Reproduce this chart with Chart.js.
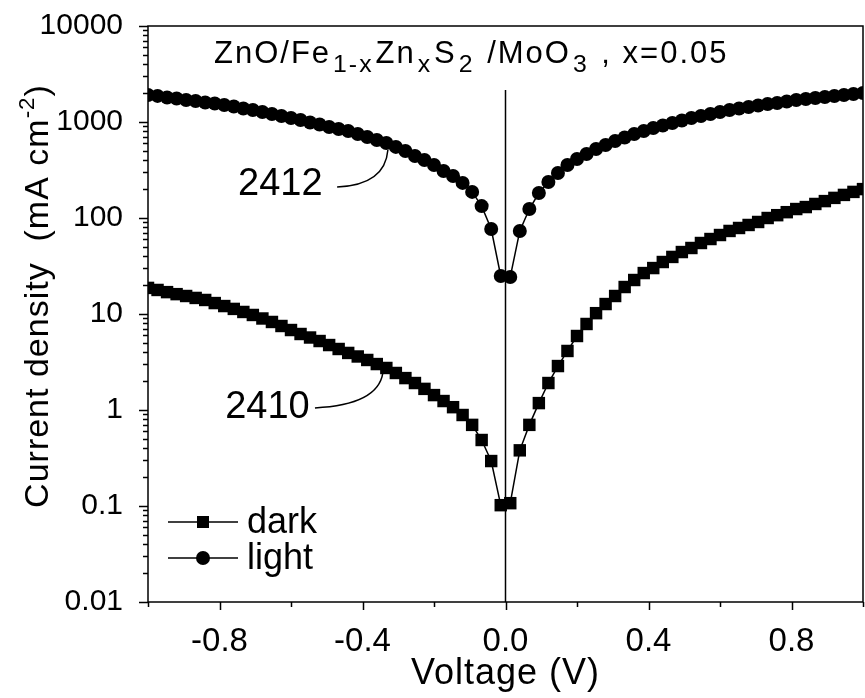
<!DOCTYPE html>
<html>
<head>
<meta charset="utf-8">
<title>ZnO/FeZnS2/MoO3 J-V</title>
<script src="https://cdn.jsdelivr.net/npm/chart.js@4.4.1/dist/chart.umd.min.js"></script>
<style>
    html, body { margin: 0; padding: 0; background: #fff; }
    canvas { display: block; }
</style>
</head>
<body>
<canvas id="ivChart" width="865" height="698"></canvas>
<script>
// voltage sweep (V), 76 points
var voltage = [-1.0000, -0.9733, -0.9467, -0.9200, -0.8933, -0.8667, -0.8400, -0.8133, -0.7867, -0.7600,
    -0.7333, -0.7067, -0.6800, -0.6533, -0.6267, -0.6000, -0.5733, -0.5467, -0.5200, -0.4933,
    -0.4667, -0.4400, -0.4133, -0.3867, -0.3600, -0.3333, -0.3067, -0.2800, -0.2533, -0.2267,
    -0.2000, -0.1733, -0.1467, -0.1200, -0.0933, -0.0667, -0.0400, -0.0133,
    0.0133, 0.0400, 0.0667, 0.0933, 0.1200, 0.1467, 0.1733, 0.2000, 0.2267, 0.2533,
    0.2800, 0.3067, 0.3333, 0.3600, 0.3867, 0.4133, 0.4400, 0.4667, 0.4933, 0.5200,
    0.5467, 0.5733, 0.6000, 0.6267, 0.6533, 0.6800, 0.7067, 0.7333, 0.7600, 0.7867,
    0.8133, 0.8400, 0.8667, 0.8933, 0.9200, 0.9467, 0.9733, 1.0000];

// current density (mA cm-2), dark
var darkJ = [18.7, 17.8, 16.9, 16.1, 15.4, 14.7, 14.0, 13.0, 12.1, 11.3,
    10.5, 9.77, 8.98, 8.26, 7.50, 6.81, 6.19, 5.69, 5.23, 4.75,
    4.32, 3.93, 3.61, 3.32, 3.01, 2.74, 2.43, 2.15, 1.91, 1.66,
    1.43, 1.24, 1.07, 0.887, 0.70, 0.487, 0.294, 0.102,
    0.107, 0.38, 0.70, 1.18, 1.91, 2.87, 4.12, 5.90, 7.87, 10.2,
    12.7, 15.4, 19.1, 22.6, 26.7, 30.1, 34.8, 39.3, 44.2, 48.7,
    54.9, 60.4, 66.5, 73.3, 78.7, 84.6, 90.9, 100, 107, 115,
    124, 130, 140, 150, 162, 174, 187, 200];

// current density (mA cm-2), light
var lightJ = [1910, 1870, 1800, 1758, 1695, 1655, 1597, 1560, 1503, 1449,
    1383, 1334, 1272, 1211, 1155, 1101, 1050, 988, 942, 887,
    845, 806, 750, 698, 649, 604, 550, 499, 443, 402,
    356, 309, 274, 232, 187, 133, 76.7, 24.9,
    24.3, 73.3, 124, 182, 237, 294, 356, 412, 464, 523,
    576, 634, 690, 750, 806, 866, 920, 977, 1038, 1101,
    1155, 1211, 1272, 1334, 1383, 1433, 1486, 1540, 1578, 1636,
    1695, 1737, 1778, 1821, 1866, 1910, 1957, 2005];

// axis ticks
var xTickValues = [-0.8, -0.4, 0.0, 0.4, 0.8];
var xTickLabels = ['-0.8', '-0.4', '0.0', '0.4', '0.8'];
var xMinorTicks = [-1.0, -0.6, -0.2, 0.2, 0.6, 1.0];
var yTickValues = [0.01, 0.1, 1, 10, 100, 1000, 10000];
var yTickLabels = ['0.01', '0.1', '1', '10', '100', '1000', '10000'];
var seriesNames = ['dark', 'light'];

// zero-voltage marker line
var zeroLineV = [0, 0];
var zeroLineJ = [0.01, 2150];

// sample labels: [text, V, J] and leader curves [V0,J0, Vc,Jc, V1,J1]
var sampleLabels = [['2412', -0.748, 221], ['2410', -0.784, 1.07]];
var sampleLeaders = [[-0.471, 210, -0.337, 221, -0.329, 511],
                     [-0.533, 1.05, -0.357, 1.13, -0.343, 2.43]];

var FONT = "'Liberation Sans', Arial, Helvetica, sans-serif";

function toPoints(xs, ys) {
    var pts = [];
    for (var i = 0; i < xs.length; i++) {
        pts.push({x: xs[i], y: ys[i]});
    }
    return pts;
}

// draws text made of normal / sub / sup pieces, returns total width
function drawRichText(ctx, pieces, x, y, size, measureOnly) {
    var w = 0;
    for (var i = 0; i < pieces.length; i++) {
        var p = pieces[i];
        var s = p[1] === 'n' ? size : size * 0.8;
        ctx.font = s + 'px ' + FONT;
        var dy = 0;
        if (p[1] === 'sub') { dy = size * 0.3; w += 2; }
        if (p[1] === 'sup') { dy = -size * 0.4; s = size * 0.66; ctx.font = s + 'px ' + FONT; }
        if (!measureOnly) ctx.fillText(p[0], x + w, y + dy);
        w += ctx.measureText(p[0]).width;
        if (p[1] === 'sub') w += 2;
    }
    return w;
}

// keep the plot frame where it is, ignore label overhang
function noOverhang(scale) {
    scale.paddingTop = 0;
    scale.paddingBottom = 0;
    scale.paddingLeft = 0;
    scale.paddingRight = 0;
}

var decorPlugin = {
    id: 'decor',
    afterDraw: function(chart) {
        var ctx = chart.ctx;
        var area = chart.chartArea;
        var xs = chart.scales.x;
        var ys = chart.scales.y;
        var i, j, px, py;

        ctx.save();
        ctx.strokeStyle = '#000';
        ctx.fillStyle = '#000';

        // frame
        ctx.lineWidth = 1.5;
        ctx.strokeRect(area.left, area.top, area.right - area.left, area.bottom - area.top);

        // x ticks (outward)
        ctx.beginPath();
        for (i = 0; i < xTickValues.length; i++) {
            px = Math.round(xs.getPixelForValue(xTickValues[i])) + 0.5;
            ctx.moveTo(px, area.bottom);
            ctx.lineTo(px, area.bottom + 8);
        }
        for (i = 0; i < xMinorTicks.length; i++) {
            px = Math.round(xs.getPixelForValue(xMinorTicks[i])) + 0.5;
            ctx.moveTo(px, area.bottom);
            ctx.lineTo(px, area.bottom + 5);
        }
        // y ticks, decades and minor 2..9
        for (i = 0; i < yTickValues.length; i++) {
            py = Math.round(ys.getPixelForValue(yTickValues[i])) + 0.5;
            ctx.moveTo(area.left, py);
            ctx.lineTo(area.left - 9, py);
            if (i < yTickValues.length - 1) {
                for (j = 2; j <= 9; j++) {
                    py = Math.round(ys.getPixelForValue(yTickValues[i] * j)) + 0.5;
                    ctx.moveTo(area.left, py);
                    ctx.lineTo(area.left - 5, py);
                }
            }
        }
        ctx.stroke();

        // sample labels and leader curves
        ctx.textBaseline = 'middle';
        ctx.textAlign = 'left';
        ctx.font = '38px ' + FONT;
        for (i = 0; i < sampleLabels.length; i++) {
            ctx.fillText(sampleLabels[i][0], xs.getPixelForValue(sampleLabels[i][1]), ys.getPixelForValue(sampleLabels[i][2]));
        }
        ctx.lineWidth = 1.5;
        for (i = 0; i < sampleLeaders.length; i++) {
            var c = sampleLeaders[i];
            ctx.beginPath();
            ctx.moveTo(xs.getPixelForValue(c[0]), ys.getPixelForValue(c[1]));
            ctx.quadraticCurveTo(xs.getPixelForValue(c[2]), ys.getPixelForValue(c[3]),
                                 xs.getPixelForValue(c[4]), ys.getPixelForValue(c[5]));
            ctx.stroke();
        }

        // title inside plot
        ctx.textBaseline = 'alphabetic';
        ctx.letterSpacing = '2px';
        drawRichText(ctx, [['ZnO/Fe', 'n'], ['1-x', 'sub'], ['Zn', 'n'], ['x', 'sub'], ['S', 'n'], ['2', 'sub'],
            [' /MoO', 'n'], ['3', 'sub'], [' , x=0.05', 'n']], area.left + 66, area.top + 37, 31);

        // legend
        ctx.letterSpacing = '0px';
        var legY = [area.bottom - 80, area.bottom - 44];
        for (i = 0; i < seriesNames.length; i++) {
            ctx.lineWidth = 1.5;
            ctx.beginPath();
            ctx.moveTo(area.left + 20, legY[i]);
            ctx.lineTo(area.left + 90, legY[i]);
            ctx.stroke();
            if (i === 0) {
                ctx.fillRect(area.left + 49, legY[i] - 6, 12, 12);
            } else {
                ctx.beginPath();
                ctx.arc(area.left + 55, legY[i], 7, 0, Math.PI * 2);
                ctx.fill();
            }
            ctx.font = '36px ' + FONT;
            ctx.textBaseline = 'middle';
            ctx.fillText(seriesNames[i], area.left + 99, legY[i] + 1);
        }

        // axis titles
        ctx.textBaseline = 'alphabetic';
        ctx.letterSpacing = '1px';
        ctx.font = '36px ' + FONT;
        ctx.textAlign = 'center';
        ctx.fillText('Voltage (V)', (area.left + area.right) / 2, 684);

        ctx.textAlign = 'left';
        var yTitle = [['Current density  (mA cm', 'n'], ['-2', 'sup'], [')', 'n']];
        var tw = drawRichText(ctx, yTitle, 0, 0, 34, true);
        ctx.translate(48, 296);
        ctx.rotate(-Math.PI / 2);
        drawRichText(ctx, yTitle, -tw / 2, 0, 34);
        ctx.restore();
    }
};

var ctx = document.getElementById('ivChart').getContext('2d');
var chart = new Chart(ctx, {
    type: 'scatter',
    data: {
        datasets: [{
            label: 'zero',
            data: toPoints(zeroLineV, zeroLineJ),
            showLine: true,
            borderColor: '#000',
            borderWidth: 1.5,
            pointRadius: 0
        }, {
            label: seriesNames[0],
            data: toPoints(voltage, darkJ),
            showLine: true,
            borderColor: '#000',
            borderWidth: 1.5,
            backgroundColor: '#000',
            pointStyle: 'rect',
            pointRadius: 8.8,
            pointBorderWidth: 0
        }, {
            label: seriesNames[1],
            data: toPoints(voltage, lightJ),
            showLine: true,
            borderColor: '#000',
            borderWidth: 1.5,
            backgroundColor: '#000',
            pointStyle: 'circle',
            pointRadius: 7,
            pointBorderWidth: 0
        }]
    },
    plugins: [decorPlugin],
    options: {
        responsive: false,
        animation: false,
        events: [],
        layout: {
            autoPadding: false,
            padding: {left: 0, top: 26, right: 2, bottom: 0}
        },
        plugins: {
            legend: {display: false},
            tooltip: {enabled: false}
        },
        scales: {
            x: {
                type: 'linear',
                min: -1,
                max: 1,
                grid: {display: false},
                border: {display: false},
                afterBuildTicks: function(scale) {
                    scale.ticks = xTickValues.map(function(v) { return {value: v}; });
                },
                afterFit: function(scale) { scale.height = 96; noOverhang(scale); },
                ticks: {
                    autoSkip: false,
                    maxRotation: 0,
                    padding: 12,
                    color: '#000',
                    font: {family: FONT, size: 33},
                    callback: function(value, index) { return xTickLabels[index]; }
                }
            },
            y: {
                type: 'logarithmic',
                min: 0.01,
                max: 10000,
                grid: {display: false},
                border: {display: false},
                afterBuildTicks: function(scale) {
                    scale.ticks = yTickValues.map(function(v) { return {value: v}; });
                },
                afterFit: function(scale) { scale.width = 148; noOverhang(scale); },
                ticks: {
                    autoSkip: false,
                    padding: 17,
                    color: '#000',
                    font: {family: FONT, size: 30},
                    callback: function(value, index) { return yTickLabels[index]; }
                }
            }
        }
    }
});
</script>
</body>
</html>
